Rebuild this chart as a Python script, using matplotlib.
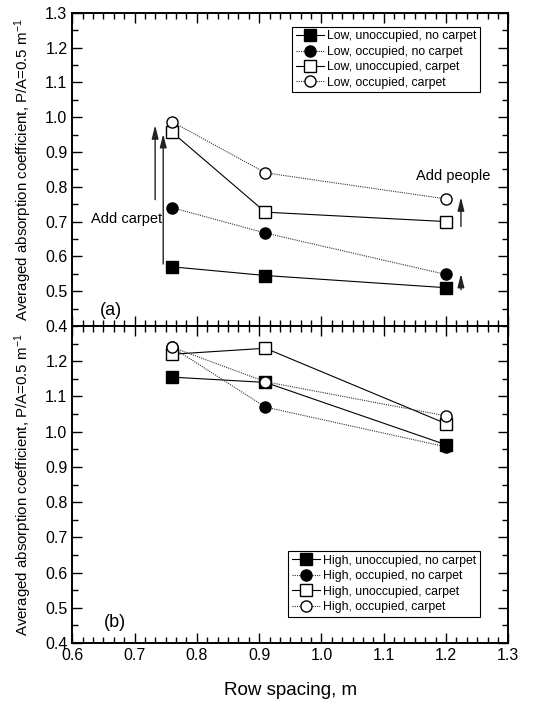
import numpy as np
import matplotlib
matplotlib.use('Agg')
import matplotlib.pyplot as plt
from matplotlib.ticker import MultipleLocator, AutoMinorLocator

plt.rcParams['font.family'] = ['Liberation Sans', 'DejaVu Sans']
plt.rcParams['mathtext.default'] = 'regular'

# row spacing, m
spacing = [0.76, 0.91, 1.2]

# (a) low ceiling
low_unocc_nocarpet = [0.570, 0.545, 0.510]
low_occ_nocarpet = [0.740, 0.667, 0.548]
low_unocc_carpet = [0.957, 0.727, 0.700]
low_occ_carpet = [0.987, 0.840, 0.765]

# (b) high ceiling
high_unocc_nocarpet = [1.155, 1.140, 0.963]
high_occ_nocarpet = [1.240, 1.070, 0.957]
high_unocc_carpet = [1.220, 1.237, 1.023]
high_occ_carpet = [1.240, 1.142, 1.045]

low_labels = ['Low, unoccupied, no carpet', 'Low, occupied, no carpet',
              'Low, unoccupied, carpet', 'Low, occupied, carpet']
high_labels = ['High, unoccupied, no carpet', 'High, occupied, no carpet',
               'High, unoccupied, carpet', 'High, occupied, carpet']

styles = [dict(marker='s', mfc='black', ls='-'),
          dict(marker='o', mfc='black', ls=(0, (1, 1))),
          dict(marker='s', mfc='white', ls='-'),
          dict(marker='o', mfc='white', ls=(0, (1, 1)))]

fig = plt.figure(figsize=(5.46, 7.05), dpi=100)
ax1 = fig.add_axes([0.1324, 0.5376, 0.7985, 0.4444])
ax2 = fig.add_axes([0.1324, 0.0879, 0.7985, 0.4496])

ylab = 'Averaged absorption coefficient, P/A=0.5 m$^{-1}$'

def draw(ax, series, labels, loc_anchor):
    for vals, lab, st in zip(series, labels, styles):
        solid = st['ls'] == '-'
        ax.plot(spacing, vals, color='black' if solid else '#333333', lw=0.8,
                ls=st['ls'], marker=st['marker'], mfc=st['mfc'], mec='black',
                mew=1.0, ms=8, label=lab)
    ax.set_xlim(0.6, 1.3)
    ax.set_ylim(0.4, 1.3)
    ax.xaxis.set_major_locator(MultipleLocator(0.1))
    ax.xaxis.set_minor_locator(AutoMinorLocator(6))
    ax.yaxis.set_major_locator(MultipleLocator(0.1))
    ax.yaxis.set_minor_locator(AutoMinorLocator(2))
    ax.tick_params(which='both', direction='in', top=True, right=True,
                   labelsize=11.5, width=1.0)
    ax.tick_params(which='major', length=7)
    ax.tick_params(which='minor', length=4)
    for sp in ax.spines.values():
        sp.set_linewidth(1.4)
    ax.set_ylabel(ylab, fontsize=10.8)
    ax.yaxis.set_label_coords(-0.088, 0.5)
    leg = ax.legend(loc='upper left', bbox_to_anchor=loc_anchor, fontsize=8.8,
                    frameon=True, fancybox=False, framealpha=1, edgecolor='black',
                    handlelength=2.3, handletextpad=0.25, labelspacing=0.28,
                    borderpad=0.3, borderaxespad=0)
    leg.get_frame().set_linewidth(0.8)

draw(ax1, [low_unocc_nocarpet, low_occ_nocarpet, low_unocc_carpet, low_occ_carpet],
     low_labels, (0.504, 0.955))
draw(ax2, [high_unocc_nocarpet, high_occ_nocarpet, high_unocc_carpet, high_occ_carpet],
     high_labels, (0.495, 0.29))

ax1.tick_params(labelbottom=False)
ax1.set_yticks(np.arange(0.4, 1.31, 0.1))
ax2.set_yticks(np.arange(0.4, 1.21, 0.1))
ax2.set_xlabel('Row spacing, m', fontsize=13.5)
ax2.xaxis.set_label_coords(0.5, -0.122)

# annotations in panel (a)
arrow = dict(arrowstyle='-|>,head_length=0.8,head_width=0.2', color='#222222',
             lw=1.0, mutation_scale=10)
ax1.annotate('', xy=(0.733, 0.985), xytext=(0.733, 0.755), arrowprops=arrow)
ax1.annotate('', xy=(0.746, 0.960), xytext=(0.746, 0.570), arrowprops=arrow)
ax1.annotate('', xy=(1.224, 0.778), xytext=(1.224, 0.678), arrowprops=arrow)
ax1.annotate('', xy=(1.224, 0.558), xytext=(1.224, 0.496), arrowprops=arrow)
ax1.text(0.63, 0.707, 'Add carpet', fontsize=10.5, va='center', ha='left')
ax1.text(1.152, 0.83, 'Add people', fontsize=10.5, va='center', ha='left')
ax1.text(0.645, 0.445, '(a)', fontsize=13, va='center', ha='left')
ax2.text(0.65, 0.457, '(b)', fontsize=13, va='center', ha='left')

fig.savefig('out.png', dpi=100)
